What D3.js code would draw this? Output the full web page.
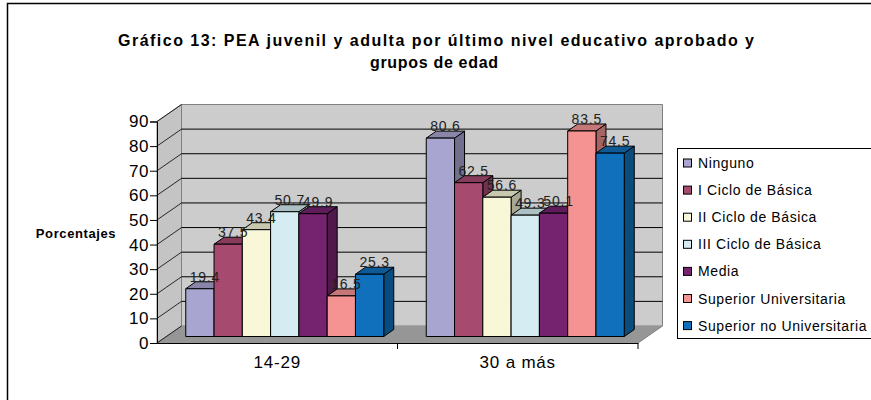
<!DOCTYPE html>
<html>
<head>
<meta charset="utf-8">
<script src="https://cdn.jsdelivr.net/npm/d3@7"></script>
<style>
  body { margin: 0; background: #fff; }
  text { font-family: "Liberation Sans", Arial, sans-serif; }
</style>
</head>
<body>
<script>
var groups = ["14-29", "30 a más"];
var series = ["Ninguno", "I Ciclo de Básica", "II Ciclo de Básica", "III Ciclo de Básica",
              "Media", "Superior Universitaria", "Superior no Universitaria"];
var values1429 = [19.4, 37.5, 43.4, 50.7, 49.9, 16.5, 25.3];
var values30 = [80.6, 62.5, 56.6, 49.3, 50.1, 83.5, 74.5];
var labels1429 = ["19.4", "37.5", "43.4", "50.7", "49.9", "16.5", "25.3"];
var labels30 = ["80.6", "62.5", "56.6", "49.3", "50.1", "83.5", "74.5"];
var yTicks = [0, 10, 20, 30, 40, 50, 60, 70, 80, 90];
var colors = ["#a8a5d1", "#a64a70", "#f8f8d8", "#d5edf2", "#76236f", "#f59393", "#1070bb"];

var W = 871, H = 400;
var svg = d3.select("body").append("svg").attr("width", W).attr("height", H);

// outer frame
svg.append("rect").attr("x", 7.5).attr("y", 3.5).attr("width", 880).attr("height", 420)
  .attr("fill", "#fff").attr("stroke", "#000").attr("stroke-width", 1.5);

svg.append("text").attr("x", 436).attr("y", 46).attr("text-anchor", "middle")
  .attr("font-size", 16).attr("font-weight", "bold")
  .attr("textLength", 636).attr("lengthAdjust", "spacing")
  .text("Gráfico 13: PEA juvenil y adulta por último nivel educativo aprobado y");
svg.append("text").attr("x", 434).attr("y", 68).attr("text-anchor", "middle")
  .attr("font-size", 16).attr("font-weight", "bold")
  .attr("textLength", 128).attr("lengthAdjust", "spacing").text("grupos de edad");

// 3d geometry
var x0 = 157, x1 = 638, y0 = 343;
var dx = 24.5, dy = -17;
var y = d3.scaleLinear().domain([0, 90]).range([y0, 121.5]);
var xg = d3.scaleBand().domain(groups).range([x0, x1]);
var xs = d3.scaleBand().domain(series).range([21.25, xg.bandwidth() - 21.25]);
var bdx = 10, bdy = -7;         // bar depth
var sx = 7.5, sy = -6.5;        // bars plane shift

function poly(pts) { return "M" + pts.map(function(p) { return p.join(","); }).join("L") + "Z"; }

// walls
svg.append("path").attr("d", poly([[x0, y(0)], [x0, y(90)], [x0 + dx, y(90) + dy], [x0 + dx, y(0) + dy]]))
  .attr("fill", "#c4c4c4").attr("stroke", "#808080");
svg.append("path").attr("d", poly([[x0 + dx, y(90) + dy], [x1 + dx, y(90) + dy], [x1 + dx, y(0) + dy], [x0 + dx, y(0) + dy]]))
  .attr("fill", "#cccccc").attr("stroke", "#808080");
svg.append("path").attr("d", poly([[x0, y0], [x1, y0], [x1 + dx, y0 + dy], [x0 + dx, y0 + dy]]))
  .attr("fill", "#969696").attr("stroke", "none");

// gridlines
yTicks.slice(1, -1).forEach(function(t) {
  svg.append("line").attr("x1", x0 + dx).attr("x2", x1 + dx).attr("y1", y(t) + dy).attr("y2", y(t) + dy)
    .attr("stroke", "#000").attr("stroke-width", 1);
});
yTicks.forEach(function(t) {
  svg.append("line").attr("x1", x0).attr("x2", x0 + dx).attr("y1", y(t)).attr("y2", y(t) + dy)
    .attr("stroke", "#000").attr("stroke-width", 0.8);
});

// axes
var yAxis = d3.axisLeft(y).tickValues(yTicks).tickSize(7).tickPadding(1);
var ga = svg.append("g").attr("transform", "translate(" + x0 + ",0)").call(yAxis);
ga.select(".domain").attr("stroke", "#000");
ga.selectAll("text").attr("font-size", 17).attr("fill", "#000").attr("letter-spacing", 0.5)
  .attr("font-family", "'Liberation Sans', Arial, sans-serif");

var xAxis = d3.axisBottom(xg).tickSize(0).tickPadding(13);
var gx = svg.append("g").attr("transform", "translate(0," + y0 + ")").call(xAxis);
gx.select(".domain").attr("stroke", "#000");
gx.selectAll("text").attr("font-size", 17).attr("fill", "#000").attr("letter-spacing", 0.8)
  .attr("font-family", "'Liberation Sans', Arial, sans-serif");
[x0 + xg.bandwidth(), x1].forEach(function(xx) {
  svg.append("line").attr("x1", xx).attr("x2", xx).attr("y1", y0).attr("y2", y0 + 6).attr("stroke", "#000");
});
svg.append("line").attr("x1", x1).attr("x2", x1 + dx).attr("y1", y0).attr("y2", y0 + dy)
  .attr("stroke", "#808080");

// bars
var rows = [{g: groups[0], v: values1429, l: labels1429}, {g: groups[1], v: values30, l: labels30}];
var base = y0 + sy;
rows.forEach(function(r) {
  series.forEach(function(s, i) {
    var bx = xg(r.g) + xs(s) + sx, w = xs.bandwidth();
    var top = base - (y0 - y(r.v[i]));
    var c = d3.color(colors[i]);
    var g = svg.append("g").attr("stroke", "#000").attr("stroke-width", 1).attr("stroke-linejoin", "round");
    g.append("path").attr("d", poly([[bx + w, top], [bx + w + bdx, top + bdy], [bx + w + bdx, base + bdy], [bx + w, base]]))
      .attr("fill", c.darker(1.1));
    g.append("path").attr("d", poly([[bx, top], [bx + bdx, top + bdy], [bx + w + bdx, top + bdy], [bx + w, top]]))
      .attr("fill", c.darker(0.6));
    g.append("rect").attr("x", bx).attr("y", top).attr("width", w).attr("height", base - top)
      .attr("fill", colors[i]);
  });
});
rows.forEach(function(r) {
  series.forEach(function(s, i) {
    var bx = xg(r.g) + xs(s) + sx, w = xs.bandwidth();
    var top = base - (y0 - y(r.v[i]));
    svg.append("text").attr("x", bx + w / 2 + 5).attr("y", top - 7).attr("text-anchor", "middle")
      .attr("font-size", 14).attr("letter-spacing", 0.8).attr("fill", "#222").text(r.l[i]);
  });
});

svg.append("text").attr("x", 76).attr("y", 238).attr("text-anchor", "middle")
  .attr("font-size", 13).attr("font-weight", "bold").attr("letter-spacing", 0.6).text("Porcentajes");

// legend
var lg = svg.append("g");
lg.append("rect").attr("x", 677.5).attr("y", 148.5).attr("width", 220).attr("height", 190)
  .attr("fill", "#fff").attr("stroke", "#000");
series.forEach(function(s, i) {
  var cy = 163 + i * 27.1;
  lg.append("rect").attr("x", 683.5).attr("y", cy - 4).attr("width", 8).attr("height", 8)
    .attr("fill", colors[i]).attr("stroke", "#000");
  lg.append("text").attr("x", 698).attr("y", cy + 5).attr("font-size", 14).attr("letter-spacing", 0.6).text(s);
});
</script>
</body>
</html>
